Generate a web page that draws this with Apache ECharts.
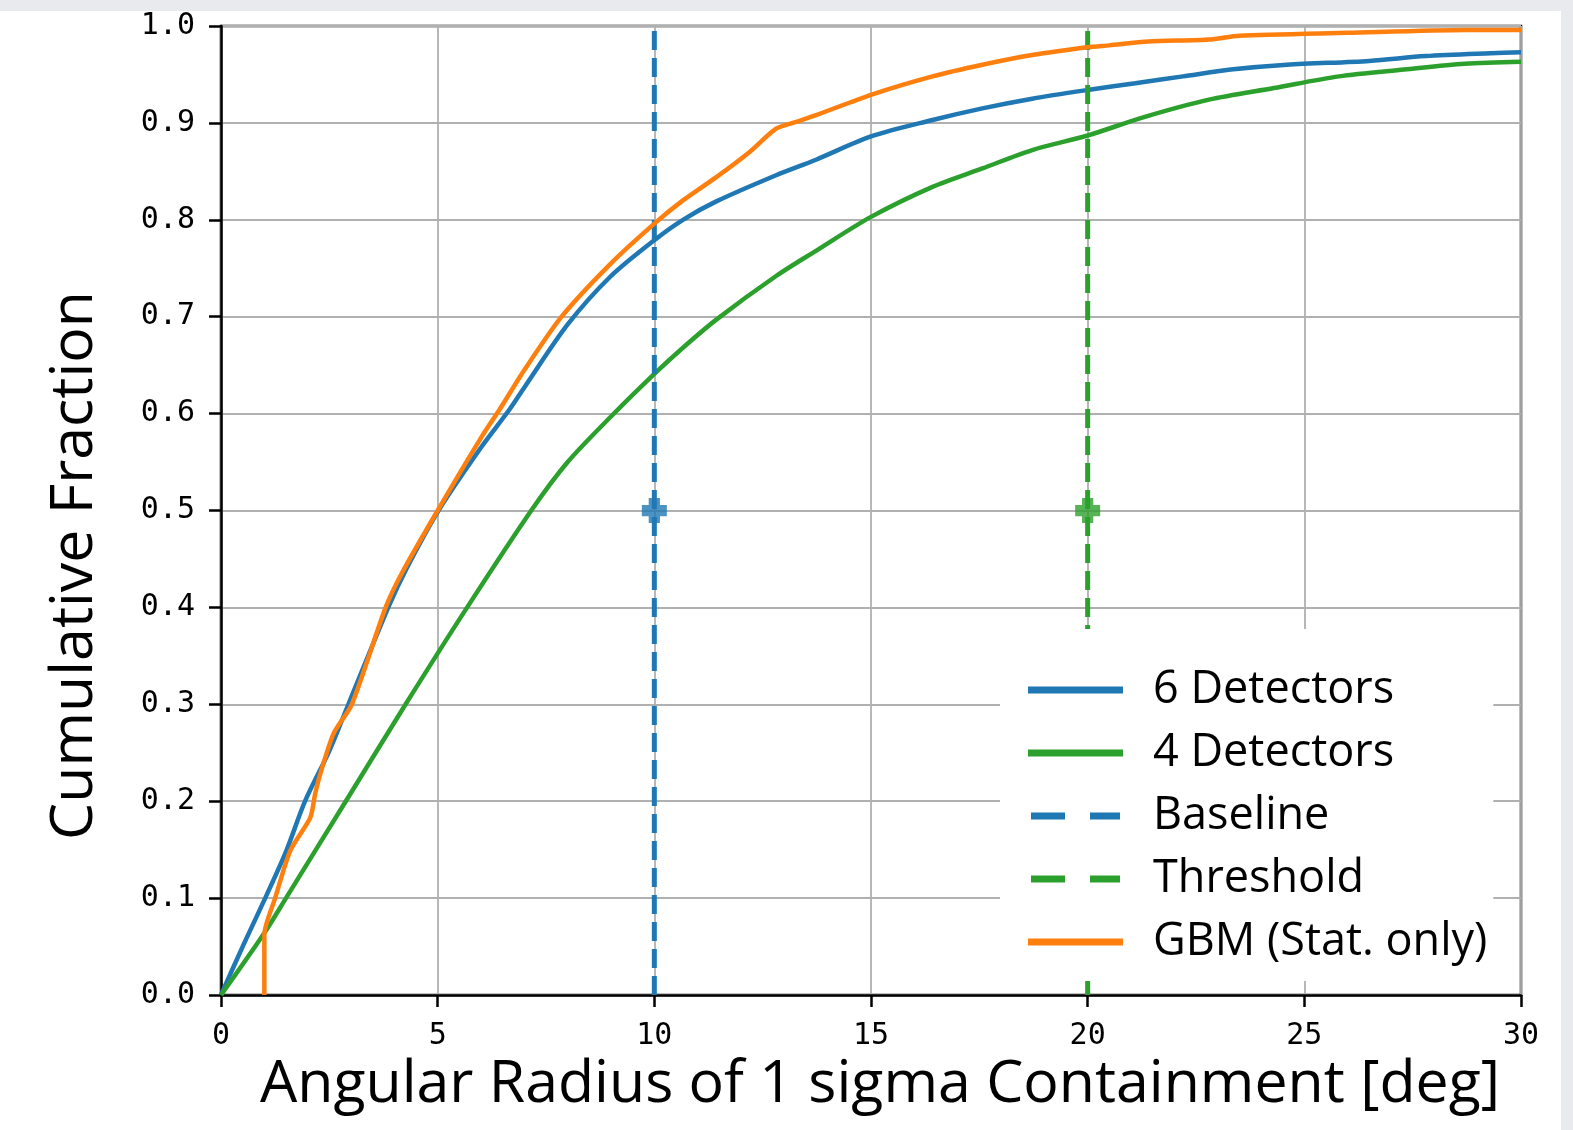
<!DOCTYPE html>
<html>
<head>
<meta charset="utf-8">
<script src="https://cdn.jsdelivr.net/npm/echarts@6/dist/echarts.min.js"></script>
<style>
  html, body { margin: 0; padding: 0; width: 1573px; height: 1130px; background: #e8eaed; overflow: hidden; }
  #chart { position: absolute; left: 0; top: 11px; width: 1561px; height: 1119px; background: #ffffff; }
</style>
</head>
<body>
<div id="chart"></div>
<script>
// ---- data ----
const xTicks = [0, 5, 10, 15, 20, 25, 30];
const yTicks = [0.0, 0.1, 0.2, 0.3, 0.4, 0.5, 0.6, 0.7, 0.8, 0.9, 1.0];

const sixDetX = [0, 0.5, 1.02, 1.5, 1.94, 2.5, 2.94, 3.86, 4.28, 5.02, 6, 6.67, 7, 8, 9, 10, 10.66, 11.43, 12.81, 13.73, 15, 16.42, 17.57, 18.72, 20, 21.1, 22.2, 23.3, 24.6, 26.5, 27.8, 29.3, 30];
const sixDetY = [0, 0.05, 0.10, 0.148, 0.20, 0.252, 0.30, 0.40, 0.44, 0.50, 0.565, 0.605, 0.627, 0.692, 0.742, 0.779, 0.800, 0.819, 0.846, 0.862, 0.886, 0.903, 0.915, 0.925, 0.934, 0.941, 0.948, 0.955, 0.96, 0.964, 0.969, 0.972, 0.973];

const fourDetX = [0, 1, 1.5, 2.88, 4.26, 5.68, 7.16, 8, 9, 10, 10.66, 11.43, 12.81, 13.73, 15, 16.42, 17.57, 18.72, 20, 21.3, 22.8, 24.3, 25.8, 27.3, 28.7, 30];
const fourDetY = [0, 0.064, 0.10, 0.20, 0.30, 0.40, 0.50, 0.55, 0.597, 0.641, 0.668, 0.697, 0.742, 0.768, 0.803, 0.834, 0.853, 0.872, 0.887, 0.906, 0.924, 0.936, 0.948, 0.955, 0.961, 0.963];

const gbmX = [1, 1, 1, 1.25, 1.6, 2.06, 2.17, 2.29, 2.6, 3.02, 3.8, 4.17, 5.0, 6, 6.44, 7, 7.86, 9, 10, 10.66, 11.43, 12.2, 12.81, 13.27, 13.73, 15, 16.42, 17.57, 18.72, 20, 20.5, 21.4, 22.8, 23.5, 26, 28.7, 30];
const gbmY = [0, 0.03, 0.062, 0.10, 0.149, 0.183, 0.207, 0.228, 0.27, 0.30, 0.40, 0.435, 0.50, 0.575, 0.605, 0.645, 0.70, 0.755, 0.796, 0.82, 0.844, 0.87, 0.894, 0.901, 0.908, 0.929, 0.948, 0.96, 0.97, 0.978, 0.98, 0.984, 0.986, 0.99, 0.993, 0.996, 0.996];

const baselineX = [10, 10];
const baselineY = [0, 1];
const thresholdX = [20, 20];
const thresholdY = [0, 1];
const markerX = [10, 20];
const markerY = [0.5, 0.5];

const seriesNames = ['6 Detectors', '4 Detectors', 'Baseline', 'Threshold', 'GBM (Stat. only)'];
const xTitle = 'Angular Radius of 1 sigma Containment [deg]';
const yTitle = 'Cumulative Fraction';

// ---- build ----
const zip = (xs, ys) => xs.map((x, i) => [x, ys[i]]);
const C_BLUE = '#1f77b4', C_GREEN = '#2ca02c', C_ORANGE = '#ff7f0e';
const plusPath = 'path://M-1.35,-3H1.35V-1.35H3V1.35H1.35V3H-1.35V1.35H-3V-1.35H-1.35Z';
const dashIcon = 'path://M0,0H34V7H0Z M59,0H89V7H59Z';

const chart = echarts.init(document.getElementById('chart'), null, { renderer: 'canvas' });
const option = {
  animation: false,
  backgroundColor: '#ffffff',
  grid: { left: 221, right: 40, top: 15, bottom: 135, show: true, borderColor: '#000', borderWidth: 2.5, backgroundColor: 'transparent' },
  xAxis: {
    type: 'value', min: xTicks[0], max: xTicks[xTicks.length - 1], interval: 5,
    name: xTitle, nameLocation: 'middle', nameGap: 57,
    nameTextStyle: { fontFamily: 'Open Sans', fontSize: 59, color: '#000', lineHeight: 59, padding: [0, 0, 0, 18] },
    axisLine: { show: true, lineStyle: { color: '#000', width: 2.5 } },
    axisTick: { show: true, length: 12, lineStyle: { color: '#000', width: 2.5 } },
    axisLabel: { margin: 26, fontFamily: 'DejaVu Sans Mono', fontSize: 30, color: '#000', formatter: v => String(v) },
    splitLine: { show: true, lineStyle: { color: '#b0b0b0', width: 1.8 } }
  },
  yAxis: {
    type: 'value', min: yTicks[0], max: yTicks[yTicks.length - 1], interval: 0.1,
    name: yTitle, nameLocation: 'middle', nameGap: 116, nameRotate: 90,
    nameTextStyle: { fontFamily: 'Open Sans', fontSize: 59, color: '#000', lineHeight: 59, padding: [0, 110, 0, 0] },
    axisLine: { show: true, lineStyle: { color: '#000', width: 2.5 } },
    axisTick: { show: true, length: 12, lineStyle: { color: '#000', width: 2.5 } },
    axisLabel: { margin: 26, fontFamily: 'DejaVu Sans Mono', fontSize: 30, color: '#000', formatter: v => v.toFixed(1) },
    splitLine: { show: true, lineStyle: { color: '#b0b0b0', width: 1.8 } }
  },
  legend: {
    orient: 'vertical', left: 1000, top: 618,
    padding: [36, 6, 14, 28],
    backgroundColor: '#ffffff', borderWidth: 0,
    itemWidth: 95, itemHeight: 7, itemGap: 13,
    textStyle: { fontFamily: 'Open Sans', fontSize: 45, color: '#000', lineHeight: 50, padding: [0, 0, 0, 25] },
    data: [
      { name: seriesNames[0], icon: 'rect' },
      { name: seriesNames[1], icon: 'rect' },
      { name: seriesNames[2], icon: dashIcon },
      { name: seriesNames[3], icon: dashIcon },
      { name: seriesNames[4], icon: 'rect' }
    ],
    selectedMode: false
  },
  series: [
    { name: seriesNames[0], type: 'line', data: zip(sixDetX, sixDetY), showSymbol: false, symbol: 'none', smooth: 0.3, color: C_BLUE, lineStyle: { color: C_BLUE, width: 4.5 }, z: 2 },
    { name: seriesNames[1], type: 'line', data: zip(fourDetX, fourDetY), showSymbol: false, symbol: 'none', smooth: 0.3, color: C_GREEN, lineStyle: { color: C_GREEN, width: 4.5 }, z: 2 },
    { name: seriesNames[2], type: 'line', data: zip(baselineX, baselineY), showSymbol: false, symbol: 'none', color: C_BLUE, lineStyle: { color: C_BLUE, width: 5, type: [19, 8] }, z: 2 },
    { name: seriesNames[3], type: 'line', data: zip(thresholdX, thresholdY), showSymbol: false, symbol: 'none', color: C_GREEN, lineStyle: { color: C_GREEN, width: 5, type: [19, 8] }, z: 2 },
    { name: 'marker6', type: 'scatter', data: [[markerX[0], markerY[0]]], symbol: plusPath, symbolSize: 25, itemStyle: { color: C_BLUE }, z: 3 },
    { name: 'marker4', type: 'scatter', data: [[markerX[1], markerY[1]]], symbol: plusPath, symbolSize: 25, itemStyle: { color: C_GREEN }, z: 3 },
    { name: seriesNames[4], type: 'line', data: zip(gbmX, gbmY), showSymbol: false, symbol: 'none', smooth: 0.25, color: C_ORANGE, lineStyle: { color: C_ORANGE, width: 4.5 }, z: 2 }
  ]
};
chart.setOption(option);
</script>
</body>
</html>
